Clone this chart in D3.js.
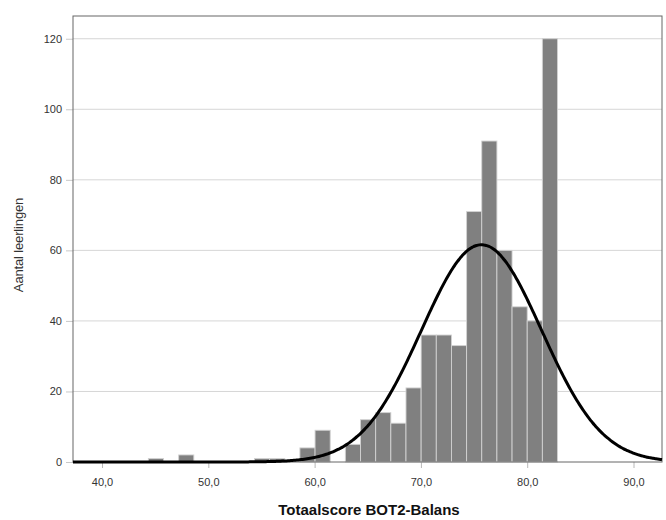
<!DOCTYPE html>
<html>
<head>
<meta charset="utf-8">
<script src="https://cdn.jsdelivr.net/npm/d3@7"></script>
<style>
  body { margin: 0; background: #fff; }
  svg { display: block; font-family: "Liberation Sans", Arial, sans-serif; }
</style>
</head>
<body>
<div id="chart"></div>
<script>
// histogram bins
const binStart = 44.36;
const binWidth = 1.4256;
const counts = [1, 0, 2, 0, 0, 0, 0, 1, 1, 0, 4, 9, 0, 5, 12, 14, 11, 21, 36, 36, 33, 71, 91, 60, 44, 40, 120];

// fitted normal curve
const curveMean = 75.7;
const curveSd = 5.65;

const xTicks = [40, 50, 60, 70, 80, 90];
const yTicks = [0, 20, 40, 60, 80, 100, 120];
const xTitle = "Totaalscore BOT2-Balans";
const yTitle = "Aantal leerlingen";

const width = 666, height = 520;
const margin = {top: 16, right: 4, bottom: 58, left: 73};

const bins = counts.map((c, i) => ({x0: binStart + i * binWidth, x1: binStart + (i + 1) * binWidth, n: c}));
const total = d3.sum(counts);

const x = d3.scaleLinear()
    .domain([37.27, 92.68])
    .range([margin.left, width - margin.right]);
const y = d3.scaleLinear()
    .domain([0, 126.45])
    .range([height - margin.bottom, margin.top]);

const svg = d3.select("#chart").append("svg")
    .attr("width", width)
    .attr("height", height);

// grid lines
svg.append("g")
    .selectAll("line")
    .data(yTicks.filter(d => d > 0))
    .join("line")
    .attr("x1", margin.left)
    .attr("x2", width - margin.right)
    .attr("y1", d => y(d))
    .attr("y2", d => y(d))
    .attr("stroke", "#d6d6d6")
    .attr("stroke-width", 1);

// y axis
svg.append("g")
    .attr("transform", `translate(${margin.left},0)`)
    .call(d3.axisLeft(y).tickValues(yTicks).tickSize(7).tickPadding(4).tickFormat(d3.format("d")))
    .call(g => g.select(".domain").remove())
    .call(g => g.selectAll(".tick line").attr("stroke", "#c8c8c8"))
    .call(g => g.selectAll(".tick text")
        .attr("fill", "#333")
        .style("font-size", "11px")
        .style("font-family", "Liberation Sans, Arial, sans-serif"));

// x axis
svg.append("g")
    .attr("transform", `translate(0,${height - margin.bottom})`)
    .call(d3.axisBottom(x).tickValues(xTicks).tickSize(6).tickPadding(10)
        .tickFormat(d => d3.format(".1f")(d).replace(".", ",")))
    .call(g => g.select(".domain").remove())
    .call(g => g.selectAll(".tick line").attr("stroke", "#b8b8b8"))
    .call(g => g.selectAll(".tick text")
        .attr("fill", "#333")
        .style("font-size", "11px")
        .style("font-family", "Liberation Sans, Arial, sans-serif"));

// bars
svg.append("g")
    .selectAll("rect")
    .data(bins.filter(d => d.n > 0))
    .join("rect")
    .attr("x", d => x(d.x0))
    .attr("width", d => x(d.x1) - x(d.x0))
    .attr("y", d => y(d.n))
    .attr("height", d => y(0) - y(d.n))
    .attr("fill", "#808080")
    .attr("stroke", "#d2d2d2")
    .attr("stroke-width", 0.9);

// frame
svg.append("rect")
    .attr("x", margin.left)
    .attr("y", margin.top)
    .attr("width", width - margin.left - margin.right)
    .attr("height", height - margin.top - margin.bottom)
    .attr("fill", "none")
    .attr("stroke", "#666")
    .attr("stroke-width", 1);

// normal curve
const peak = total * binWidth / (curveSd * Math.sqrt(2 * Math.PI));
const curvePts = d3.range(0, 401).map(i => {
    const v = x.domain()[0] + (x.domain()[1] - x.domain()[0]) * i / 400;
    const z = (v - curveMean) / curveSd;
    return [v, peak * Math.exp(-z * z / 2)];
});
svg.append("path")
    .datum(curvePts)
    .attr("fill", "none")
    .attr("stroke", "#000")
    .attr("stroke-width", 3)
    .attr("d", d3.line().x(d => x(d[0])).y(d => y(d[1])).curve(d3.curveBasis));

// titles
svg.append("text")
    .attr("x", 369)
    .attr("y", 515)
    .attr("text-anchor", "middle")
    .attr("fill", "#111")
    .style("font-size", "15px")
    .style("font-weight", "bold")
    .text(xTitle);

svg.append("text")
    .attr("transform", `translate(23,245) rotate(-90)`)
    .attr("text-anchor", "middle")
    .attr("fill", "#333")
    .style("font-size", "13px")
    .style("letter-spacing", "-0.15px")
    .text(yTitle);
</script>
</body>
</html>
